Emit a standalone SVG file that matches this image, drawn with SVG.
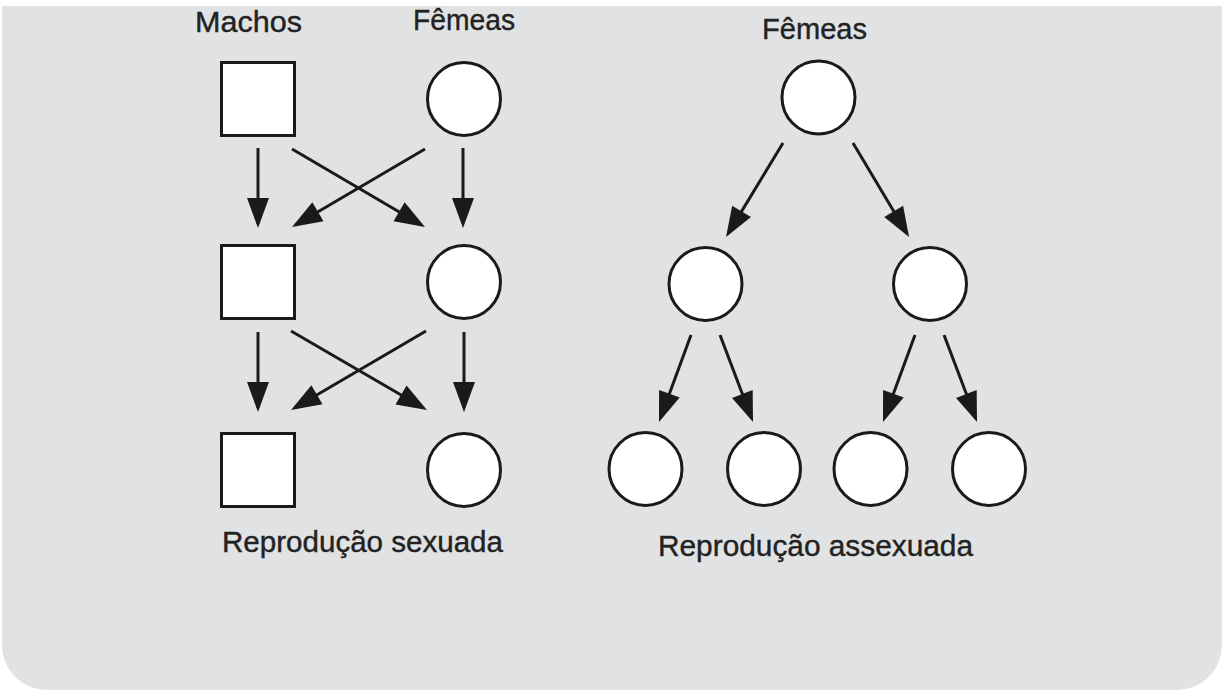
<svg xmlns="http://www.w3.org/2000/svg" width="1225" height="691" viewBox="0 0 1225 691">
  <defs>
    <marker id="arrow" markerUnits="userSpaceOnUse" markerWidth="30" markerHeight="22" refX="26" refY="11" orient="auto" overflow="visible">
      <path d="M0,0 L30,11 L0,22 Z" fill="#1a1a1a"/>
    </marker>
    <style>
      .lbl { font-family: "Liberation Sans", Arial, sans-serif; font-size: 30px; fill: #222222; stroke: #222222; stroke-width: 0.4; }
      .node { fill: #ffffff; stroke: #1a1a1a; stroke-width: 3; }
      .edge { stroke: #1a1a1a; stroke-width: 3; fill: none; marker-end: url(#arrow); }
    </style>
  </defs>
  <rect width="1225" height="691" fill="#ffffff"/>
  <path d="M2,6 H1222 V645 A45,45 0 0 1 1177,690 H47 A45,45 0 0 1 2,645 Z" fill="#e1e2e4"/>

  <g id="labels">
    <text class="lbl" x="195" y="32" textLength="107" lengthAdjust="spacingAndGlyphs">Machos</text>
    <text class="lbl" x="413" y="30" textLength="102" lengthAdjust="spacingAndGlyphs">Fêmeas</text>
    <text class="lbl" x="762" y="39" textLength="105" lengthAdjust="spacingAndGlyphs">Fêmeas</text>
    <text class="lbl" x="222" y="552" textLength="281" lengthAdjust="spacingAndGlyphs">Reprodução sexuada</text>
    <text class="lbl" x="658" y="556" textLength="315" lengthAdjust="spacingAndGlyphs">Reprodução assexuada</text>
  </g>

  <g id="connectors">
    <line class="edge" x1="258" y1="148" x2="258" y2="224"/>
    <line class="edge" x1="463" y1="148" x2="463" y2="224"/>
    <line class="edge" x1="292" y1="149" x2="421.5" y2="225"/>
    <line class="edge" x1="425" y1="149" x2="295.5" y2="225"/>
    <line class="edge" x1="258" y1="332" x2="258" y2="408"/>
    <line class="edge" x1="464" y1="332" x2="464" y2="408"/>
    <line class="edge" x1="291" y1="331" x2="423.5" y2="408"/>
    <line class="edge" x1="426" y1="331" x2="294.5" y2="408"/>
    <line class="edge" x1="783" y1="143" x2="728.1" y2="233.6"/>
    <line class="edge" x1="853" y1="143" x2="907" y2="233.6"/>
    <line class="edge" x1="691" y1="335" x2="660.4" y2="418.2"/>
    <line class="edge" x1="720" y1="335" x2="751.6" y2="418.3"/>
    <line class="edge" x1="915" y1="335" x2="884.4" y2="418.2"/>
    <line class="edge" x1="944" y1="335" x2="975.6" y2="418.3"/>
  </g>

  <g id="sex-m1"><rect class="node" x="221.5" y="62.5" width="73" height="73"/></g>
  <g id="sex-f1"><circle class="node" cx="464" cy="99" r="36.5"/></g>
  <g id="sex-m2"><rect class="node" x="221.5" y="245.5" width="73" height="73"/></g>
  <g id="sex-f2"><circle class="node" cx="464" cy="282" r="36.5"/></g>
  <g id="sex-m3"><rect class="node" x="221.5" y="433.5" width="73" height="73"/></g>
  <g id="sex-f3"><circle class="node" cx="464" cy="470" r="36.5"/></g>

  <g id="asex-root"><circle class="node" cx="818.5" cy="97.5" r="36.5"/></g>
  <g id="asex-l"><circle class="node" cx="705.5" cy="284" r="36.5"/></g>
  <g id="asex-r"><circle class="node" cx="930" cy="284" r="36.5"/></g>
  <g id="asex-ll"><circle class="node" cx="645.5" cy="469" r="36.5"/></g>
  <g id="asex-lr"><circle class="node" cx="764" cy="469" r="36.5"/></g>
  <g id="asex-rl"><circle class="node" cx="870.5" cy="469" r="36.5"/></g>
  <g id="asex-rr"><circle class="node" cx="989" cy="469" r="36.5"/></g>
</svg>
